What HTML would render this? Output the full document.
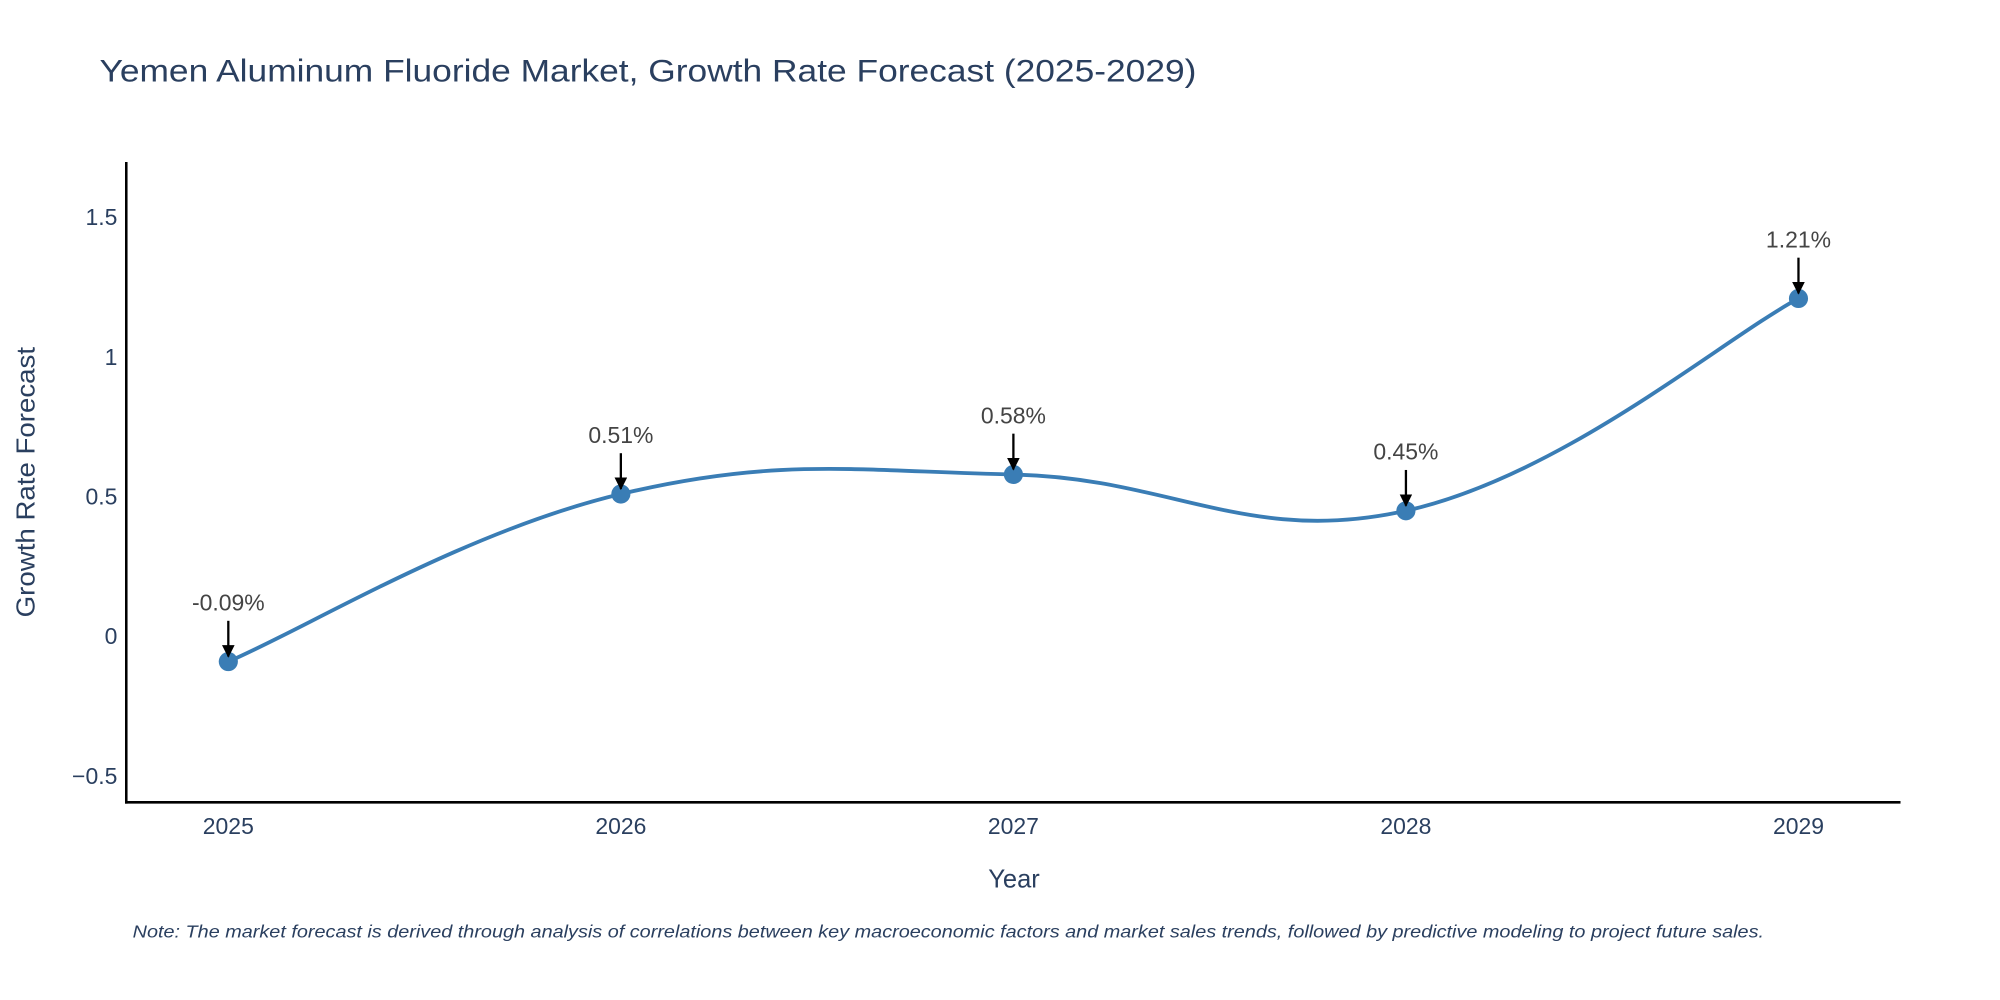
<!DOCTYPE html>
<html><head><meta charset="utf-8">
<style>
html,body{margin:0;padding:0;background:#fff;}
svg{display:block;}
text{font-family:"Liberation Sans",sans-serif;}
</style></head>
<body>
<svg id="chart" width="2000" height="1000" viewBox="0 0 1568 784" xmlns="http://www.w3.org/2000/svg">
<defs>
<marker id="ah" viewBox="0 0 10 10" refX="9" refY="5" markerWidth="5.5" markerHeight="5.5" orient="auto"><path d="M0,0 L10,5 L0,10 z" fill="#000"/></marker>
</defs>
<text x="78" y="64" font-size="25" fill="#2a3f5f" textLength="860" lengthAdjust="spacingAndGlyphs">Yemen Aluminum Fluoride Market, Growth Rate Forecast (2025-2029)</text>
<g id="yticks"></g><g id="xticks"></g>
<line x1="99" y1="127" x2="99" y2="630" stroke="#000" stroke-width="2"/>
<line x1="98" y1="629" x2="1490" y2="629" stroke="#000" stroke-width="2"/>
<path id="line" fill="none" stroke="#3a7db5" stroke-width="3"/>
<g id="pts"></g><g id="ann"></g>
<text transform="translate(27,378) rotate(-90)" text-anchor="middle" font-size="20" fill="#2a3f5f" textLength="212" lengthAdjust="spacingAndGlyphs">Growth Rate Forecast</text>
<text x="795" y="696" text-anchor="middle" font-size="20" fill="#2a3f5f">Year</text>
<text x="104" y="735" font-size="14" font-style="italic" fill="#2a3f5f" textLength="1279" lengthAdjust="spacingAndGlyphs">Note: The market forecast is derived through analysis of correlations between key macroeconomic factors and market sales trends, followed by predictive modeling to project future sales.</text>
</svg>
<script>
const years=["2025","2026","2027","2028","2029"];
const values=[-0.09,0.51,0.58,0.45,1.21];
const labels=["-0.09%","0.51%","0.58%","0.45%","1.21%"];
const yTicks=[-0.5,0,0.5,1,1.5];
const yTickLabels=["\u22120.5","0","0.5","1","1.5"];
const NS="http://www.w3.org/2000/svg";
function xs(i){return 179+i*(1410-179)/(years.length-1);}
function ys(v){return 499-v*219;}
function mk(t,a){const e=document.createElementNS(NS,t);for(const k in a)e.setAttribute(k,a[k]);return e;}
const yg=document.getElementById('yticks');
yTicks.forEach((v,i)=>{const t=mk('text',{x:92,y:ys(v)+6,'text-anchor':'end','font-size':18,fill:'#2a3f5f'});


t.textContent=yTickLabels[i];yg.appendChild(t);});
const xg=document.getElementById('xticks');
years.forEach((y,i)=>{const t=mk('text',{x:xs(i),y:654,'text-anchor':'middle','font-size':18,fill:'#2a3f5f'});


t.textContent=y;xg.appendChild(t);});
const P=values.map((v,i)=>[xs(i),ys(v)]);
let d="M"+P[0][0]+","+P[0][1];const k=0.2;
for(let i=0;i<P.length-1;i++){const p0=P[Math.max(0,i-1)],p1=P[i],p2=P[i+1],p3=P[Math.min(P.length-1,i+2)];
const c1=[p1[0]+(p2[0]-p0[0])*k,p1[1]+(p2[1]-p0[1])*k];
const c2=[p2[0]-(p3[0]-p1[0])*k,p2[1]-(p3[1]-p1[1])*k];
d+=" C"+c1+" "+c2+" "+p2;}
document.getElementById('line').setAttribute('d',d);
const pg=document.getElementById('pts'),ag=document.getElementById('ann');
P.forEach((p,i)=>{const c=mk('circle',{cx:p[0],cy:p[1],r:7.5,fill:'#3a7db5'});


pg.appendChild(c);
const l=mk('line',{x1:p[0],y1:p[1]-32,x2:p[0],y2:p[1]-4,stroke:'#000','stroke-width':1.8,'marker-end':'url(#ah)'});


ag.appendChild(l);
const t=mk('text',{x:p[0],y:p[1]-40,'text-anchor':'middle','font-size':18,fill:'#444'});


t.textContent=labels[i];ag.appendChild(t);});
</script>
</body></html>
